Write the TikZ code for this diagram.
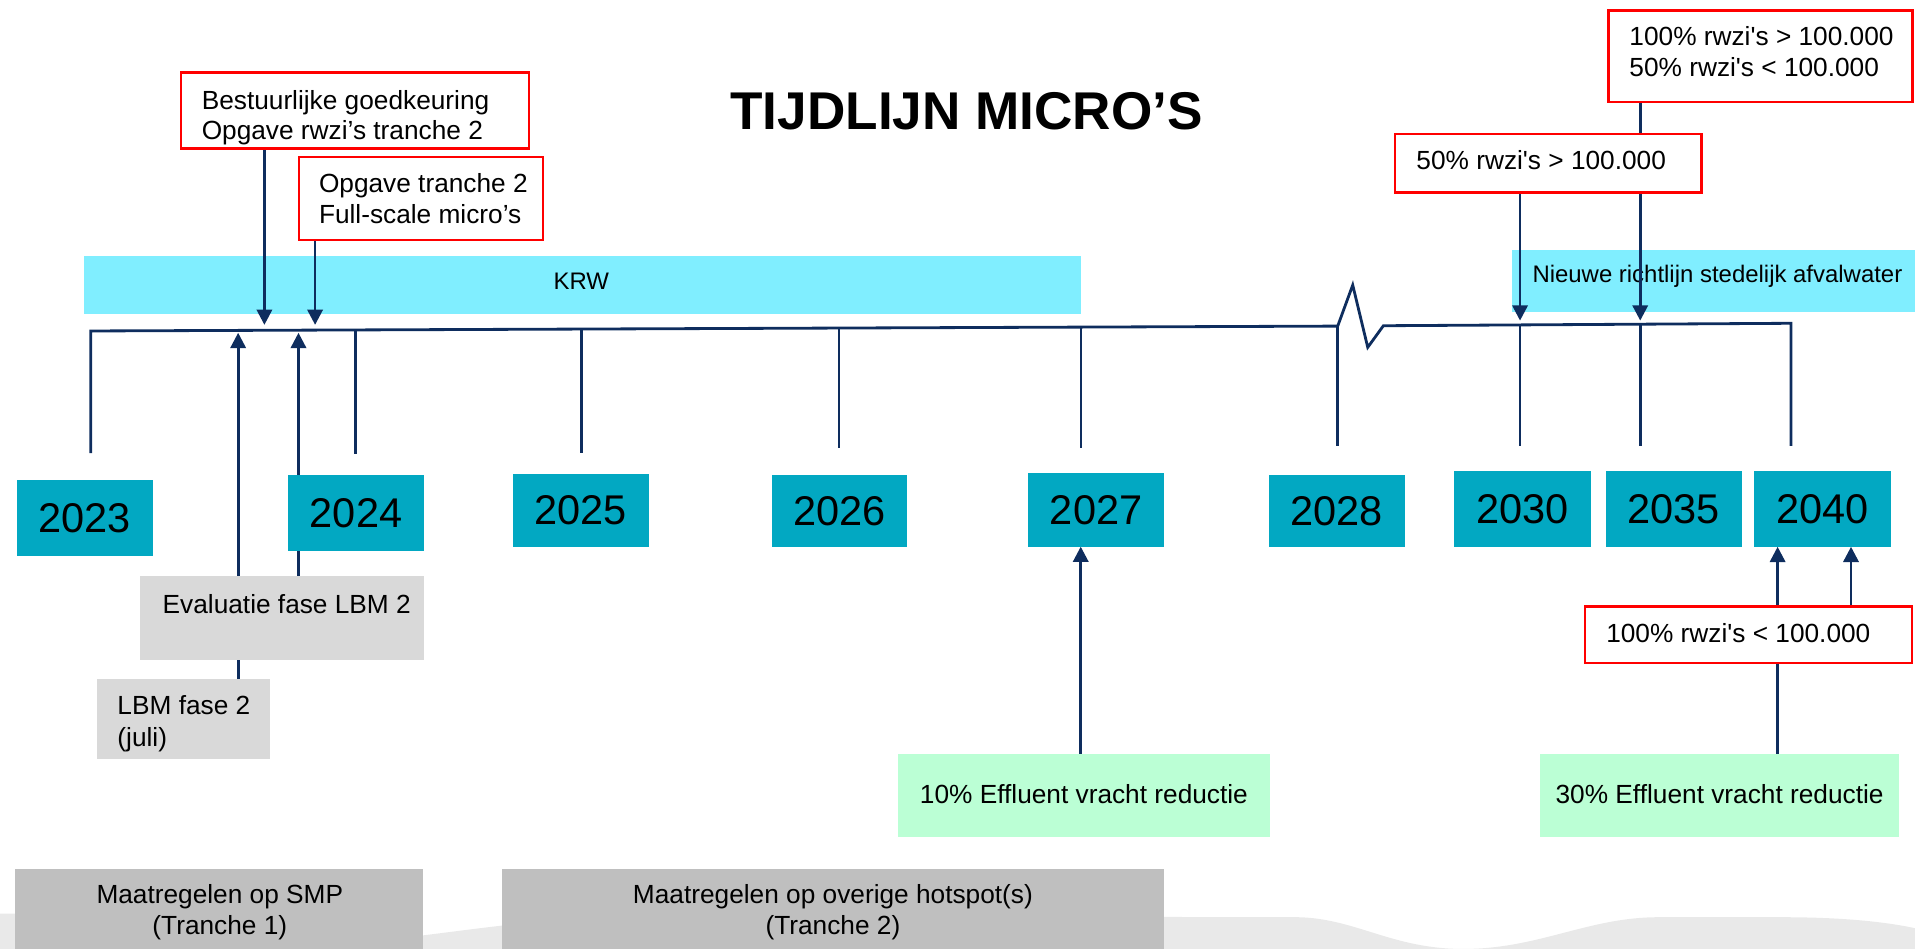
\documentclass[tikz,border=0pt]{standalone}
\usepackage{fontspec}
\setmainfont{Liberation Sans}
\usetikzlibrary{arrows.meta}
\pgfdeclarelayer{back}
\pgfdeclarelayer{mid}
\pgfsetlayers{back,mid,main}
\definecolor{navy}{RGB}{14,45,94}
\definecolor{yeartl}{RGB}{2,168,194}
\definecolor{bandcy}{RGB}{128,238,255}
\definecolor{mintgr}{RGB}{187,255,213}
\definecolor{boxgr}{RGB}{217,217,217}
\definecolor{botgr}{RGB}{191,191,191}
\definecolor{wavegr}{RGB}{233,233,233}
\newcommand\fsn{\fontsize{21.5}{25.5}\selectfont}
\newcommand\fbnd{\fontsize{19.6}{23}\selectfont}
\newcommand\fyr{\fontsize{34}{40}\selectfont}
\newcommand\fttl{\fontsize{43.5}{52}\selectfont\bfseries}
\begin{document}
\begin{tikzpicture}[x=1pt,y=-1pt,
  rect/.style={inner sep=0pt, outer sep=0pt, anchor=north west},
  redbox/.style={rect, draw=red, line width=2pt, fill=white},
  yearbox/.style={rect, fill=yeartl, font=\fyr},
  band/.style={rect, fill=bandcy},
  mint/.style={rect, fill=mintgr},
  greybox/.style={rect, fill=boxgr},
  botbox/.style={rect, fill=botgr},
  txt/.style={font=\fsn, inner sep=0pt, anchor=base west},
  ctxt/.style={font=\fsn, inner sep=0pt, anchor=base},
  btxt/.style={font=\fbnd, inner sep=0pt, anchor=base west},
  tl/.style={draw=navy, line width=2.3pt, line join=miter},
  arr/.style={draw=navy, line width=2.2pt, -{Triangle[width=12.5pt,length=12.5pt]}},
  plain/.style={draw=navy, line width=2.2pt},
]
\useasboundingbox (0,0) rectangle (1568,777);

% background wave
\begin{pgfonlayer}{back}
\fill[wavegr] (0,748) .. controls (100,748) and (200,775) .. (280,772)
  .. controls (340,770) and (420,752) .. (520,750) -- (1063,751)
  .. controls (1110,752) and (1140,777) .. (1198,777)
  .. controls (1260,777) and (1300,751) .. (1358,751) -- (1459,751)
  .. controls (1510,751) and (1545,755) .. (1568,760) -- (1568,777) -- (0,777) -- cycle;
\node[band, minimum width=816pt, minimum height=47.4pt] (krw) at (69,209.6) {};
\node[btxt, anchor=base] (krwt) at (476,236.8) {KRW};
\node[band, minimum width=330pt, minimum height=50.5pt] (nrsa) at (1238,204.7) {};
\node[btxt] (nrsat) at (1254.6,231.5) {Nieuwe richtlijn stedelijk afvalwater};
\end{pgfonlayer}

% title
\node[font=\fttl, inner sep=0pt, anchor=base] (title) at (791.5,106.2) {TIJDLIJN MICRO’S};

% red boxes top
\node[redbox, minimum width=285pt, minimum height=62pt] (r1) at (148,59.5) {};
\node[txt] (r1a) at (165,89.5) {Bestuurlijke goedkeuring};
\node[txt] (r1b) at (165,114.6) {Opgave rwzi’s tranche 2};
\node[redbox, minimum width=200pt, minimum height=68pt] (r2) at (244.6,128.5) {};
\node[txt] (r2a) at (261,157.8) {Opgave tranche 2};
\node[txt] (r2b) at (261,183.4) {Full-scale micro’s};
\node[redbox, minimum width=249pt, minimum height=75pt] (r3) at (1317,8.7) {};
\node[txt] (r3a) at (1334,37.4) {100\% rwzi\textquotesingle s > 100.000};
\node[txt] (r3b) at (1334,63) {50\% rwzi\textquotesingle s < 100.000};
\node[redbox, minimum width=251pt, minimum height=48pt] (r4) at (1142,109.7) {};
\node[txt] (r4a) at (1159.6,139) {50\% rwzi\textquotesingle s > 100.000};
\node[redbox, minimum width=268pt, minimum height=46.3pt] (r5) at (1297.6,496.7) {};
\node[txt] (r5a) at (1315,526) {100\% rwzi\textquotesingle s < 100.000};

% year boxes
\node[yearbox, minimum width=111pt, minimum height=62pt] (y2023) at (14,393) {2023};
\node[yearbox, minimum width=111pt, minimum height=62pt] (y2024) at (236,389) {2024};
\node[yearbox, minimum width=111pt, minimum height=60pt] (y2025) at (420,388) {2025};
\node[yearbox, minimum width=111pt, minimum height=59pt] (y2026) at (632,389) {2026};
\node[yearbox, minimum width=111pt, minimum height=60pt] (y2027) at (842,387.6) {2027};
\node[yearbox, minimum width=111pt, minimum height=59pt] (y2028) at (1039,389) {2028};
\node[yearbox, minimum width=112pt, minimum height=62pt] (y2030) at (1190.6,385.7) {2030};
\node[yearbox, minimum width=111pt, minimum height=62pt] (y2035) at (1315,385.7) {2035};
\node[yearbox, minimum width=112pt, minimum height=62pt] (y2040) at (1436,385.7) {2040};

% grey boxes
\node[greybox, minimum width=232pt, minimum height=68pt] (eval) at (115,472) {};
\node[txt] (evalt) at (133,502) {Evaluatie fase LBM 2};
\node[greybox, minimum width=141.5pt, minimum height=65.5pt] (lbm) at (79.5,556) {};
\node[txt] (lbma) at (96,585) {LBM fase 2};
\node[txt] (lbmb) at (96,611) {(juli)};

% green boxes
\node[mint, minimum width=305pt, minimum height=67.6pt] (g1) at (735,617.4) {};
\node[ctxt] (g1t) at (887.5,658) {10\% Effluent vracht reductie};
\node[mint, minimum width=294pt, minimum height=67.6pt] (g2) at (1261,617.4) {};
\node[ctxt] (g2t) at (1408,658) {30\% Effluent vracht reductie};

% bottom boxes
\node[botbox, minimum width=333.5pt, minimum height=66pt] (m1) at (12.5,711.5) {};
\node[ctxt] (m1a) at (180,740) {Maatregelen op SMP};
\node[ctxt] (m1b) at (180,765) {(Tranche 1)};
\node[botbox, minimum width=542pt, minimum height=66pt] (m2) at (411,711.5) {};
\node[ctxt] (m2a) at (682,740) {Maatregelen op overige hotspot(s)};
\node[ctxt] (m2b) at (682,765) {(Tranche 2)};

% coordinates on the timeline
\coordinate (L0) at (74.3,271);
\coordinate (Lb) at (1095.3,267);
\coordinate (Lp) at (1107.6,233.4);
\coordinate (Lv) at (1119.9,284.4);
\coordinate (Le) at (1132.7,266.7);
\coordinate (L1) at (1466.5,264.7);

\coordinate (k1) at (291,270.2);   \coordinate (k1b) at (291,372);
\coordinate (k2) at (476,269.4);   \coordinate (k2b) at (476,371);
\coordinate (k3) at (687,268.6);   \coordinate (k3b) at (687,367);
\coordinate (k4) at (885,267.8);   \coordinate (k4b) at (885,367);
\coordinate (k5) at (1244.6,266);  \coordinate (k5b) at (1244.6,365);
\coordinate (k6) at (1343,265.4);  \coordinate (k6b) at (1343,365);
\coordinate (L0b) at (74.3,371);
\coordinate (Lbb) at (1095.3,365);
\coordinate (L1b) at (1466.5,365);

\coordinate (a1) at (216.5,266);
\coordinate (a2) at (258,266);
\coordinate (u1) at (195,272.5);
\coordinate (u2) at (244.4,272.5);
\coordinate (d1) at (1244.6,262.5);
\coordinate (d2) at (1343,262.5);
\coordinate (x27) at (884.9,0);
\coordinate (x40a) at (1455.5,0);
\coordinate (x40b) at (1515.6,0);

\begin{pgfonlayer}{mid}
\draw[tl] (L0b) -- (L0) -- (Lb) -- (Lp) -- (Lv) -- (Le) -- (L1) -- (L1b);
\draw[plain] (Lb) -- (Lbb);
\draw[plain] (k1) -- (k1b);
\draw[plain] (k2) -- (k2b);
\draw[plain] (k3) -- (k3b);
\draw[plain] (k4) -- (k4b);
\draw[plain] (k5) -- (k5b);
\draw[plain] (k6) -- (k6b);
% arrows down from top boxes
\draw[arr] (r1.south -| a1) -- (a1);
\draw[arr] (r2.south -| a2) -- (a2);
\draw[plain] (r3.south -| d2) -- (r4.north -| d2);
\draw[arr] (r4.south -| d1) -- (d1);
\draw[arr] (r4.south -| d2) -- (d2);
% arrows up from below
\draw[arr] (lbm.north -| u1) -- (u1);
\draw[arr] (eval.north -| u2) -- (u2);
\draw[arr] (g1.north -| x27) -- (y2027.south -| x27);
\draw[plain] (g2.north -| x40a) -- (r5.south -| x40a);
\draw[arr] (r5.north -| x40a) -- (y2040.south -| x40a);
\draw[arr] (r5.north -| x40b) -- (y2040.south -| x40b);
\end{pgfonlayer}
\end{tikzpicture}
\end{document}
